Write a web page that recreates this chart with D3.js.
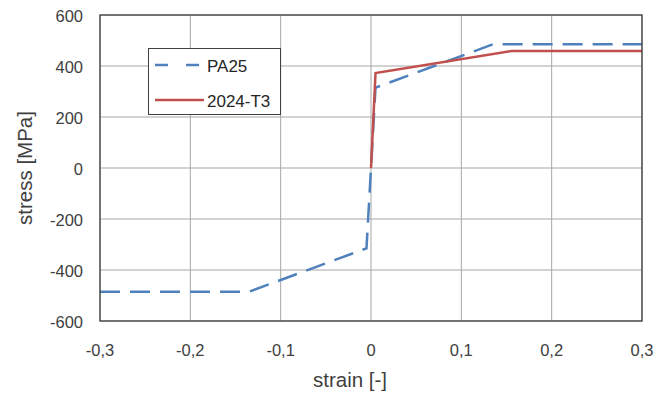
<!DOCTYPE html>
<html><head><meta charset="utf-8">
<script src="https://cdn.jsdelivr.net/npm/d3@7"></script>
<style>body{margin:0;background:#fff;} text{font-family:"Liberation Sans",Arial,sans-serif;}</style>
</head><body><svg id="c" width="655" height="394"></svg>
<script>
const xTicks = [-0.3,-0.2,-0.1,0,0.1,0.2,0.3];
const yTicks = [-600,-400,-200,0,200,400,600];
const pa25Strain = [-0.3,-0.135,-0.005,0.005,0.135,0.3];
const pa25Stress = [-485,-485,-315,315,485,485];
const t3Strain = [0,0.005,0.156,0.3];
const t3Stress = [0,372,459,459];
const seriesNames = ["PA25","2024-T3"];

const svg = d3.select("#c");
const L=100,R=642,T=15,B=321;
const x = d3.scaleLinear().domain([-0.3,0.3]).range([L,R]);
const y = d3.scaleLinear().domain([-600,600]).range([B,T]);
const fmt = d => d===0 ? "0" : String(d).replace("0.",d<0?"0,":"0,");

const g = svg.append("g");
g.selectAll(".gx").data(xTicks).join("line").attr("x1",d=>x(d)).attr("x2",d=>x(d)).attr("y1",T).attr("y2",B).attr("stroke","#a6a6a6").attr("stroke-width",1);
g.selectAll(".gy").data(yTicks).join("line").attr("y1",d=>y(d)).attr("y2",d=>y(d)).attr("x1",L).attr("x2",R).attr("stroke","#a6a6a6").attr("stroke-width",1);

const line = d3.line().x(d=>x(d[0])).y(d=>y(d[1]));
const pa = pa25Strain.map((s,i)=>[s,pa25Stress[i]]);
const t3 = t3Strain.map((s,i)=>[s,t3Stress[i]]);
g.append("path").attr("d",line(pa)).attr("fill","none").attr("stroke","#4f81bd").attr("stroke-width",2.5).attr("stroke-dasharray","20,10");
g.append("path").attr("d",line(t3)).attr("fill","none").attr("stroke","#c0504d").attr("stroke-width",2.5);

g.append("rect").attr("x",L).attr("y",T).attr("width",R-L).attr("height",B-T).attr("fill","none").attr("stroke","#404040").attr("stroke-width",1.3);

g.selectAll(".yl").data(yTicks).join("text").attr("x",83).attr("y",d=>y(d)+7).attr("text-anchor","end").attr("font-size",16.5).attr("fill","#404040").text(d=>String(d));
g.selectAll(".xl").data(xTicks).join("text").attr("x",d=>x(d)).attr("y",356).attr("text-anchor","middle").attr("font-size",16.5).attr("fill","#404040").text(fmt);

svg.append("text").attr("x",350).attr("y",387).attr("text-anchor","middle").attr("font-size",20.5).attr("fill","#404040").text("strain [-]");
svg.append("text").attr("transform","translate(32,168) rotate(-90)").attr("text-anchor","middle").attr("font-size",20.5).attr("fill","#404040").text("stress [MPa]");

const lg = svg.append("g");
lg.append("rect").attr("x",148.5).attr("y",48.5).attr("width",132).attr("height",66).attr("fill","#fff").attr("stroke","#404040").attr("stroke-width",1);
const ly=[65,100];
lg.append("line").attr("x1",155).attr("x2",204).attr("y1",ly[0]).attr("y2",ly[0]).attr("stroke","#4f81bd").attr("stroke-width",2.5).attr("stroke-dasharray","13,18");
lg.append("line").attr("x1",155).attr("x2",204).attr("y1",ly[1]).attr("y2",ly[1]).attr("stroke","#c0504d").attr("stroke-width",2.5);
lg.selectAll(".lt").data(seriesNames).join("text").attr("x",207).attr("y",(d,i)=>ly[i]+7).attr("font-size",17).attr("fill","#262626").text(d=>d);
</script></body></html>
